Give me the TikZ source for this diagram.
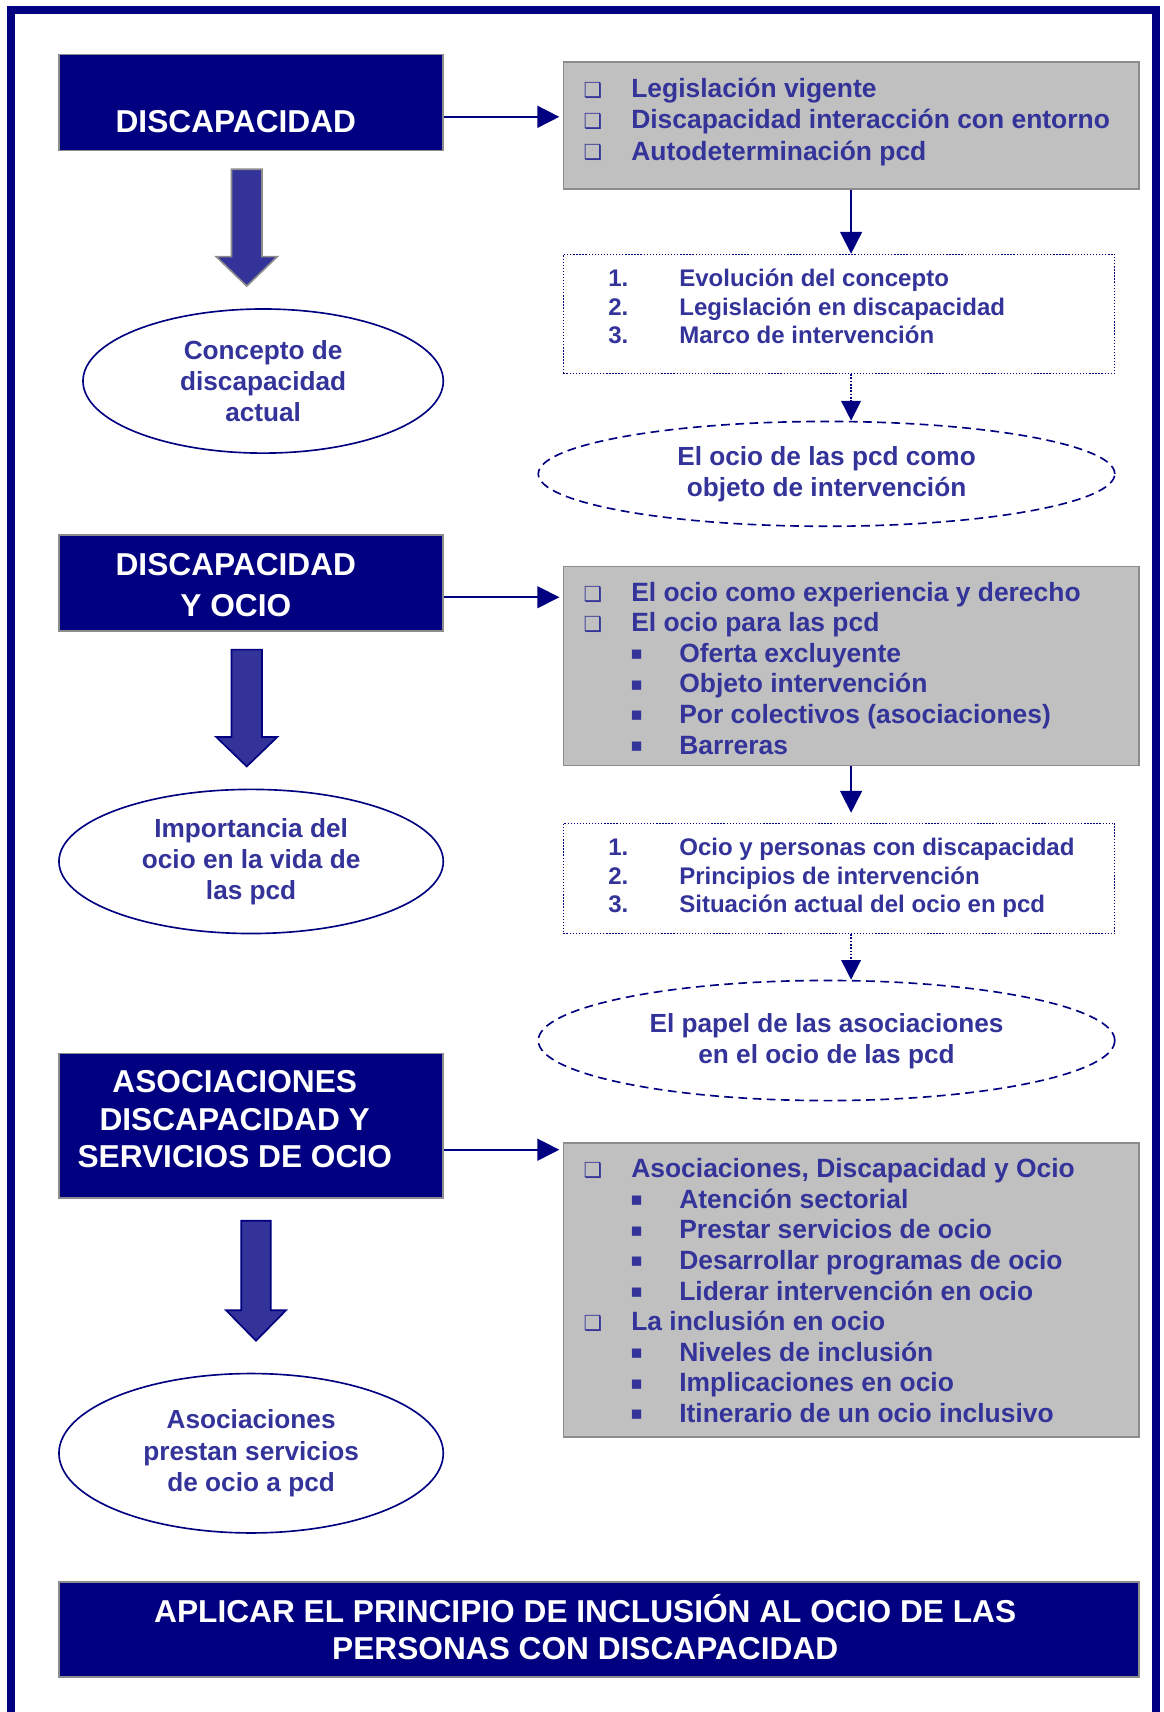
\documentclass[tikz,border=0pt]{standalone}
\usepackage{fontspec}
\setmainfont{Liberation Sans}
\newfontfamily\symfont{DejaVu Sans}
\usetikzlibrary{arrows.meta,shapes.geometric,positioning}
\definecolor{navyblue}{RGB}{0,0,128}
\definecolor{textblue}{RGB}{51,51,153}
\definecolor{boxgray}{RGB}{192,192,192}
\definecolor{edgegray}{RGB}{140,140,140}
\newcommand{\boxbul}{{\symfont\fontsize{19}{19}\selectfont ❑}}
\newcommand{\sqbul}{{\symfont\fontsize{17}{17}\selectfont ▪}}

\begin{document}
\begin{tikzpicture}[x=1pt,y=-1pt,
  header/.style={draw=edgegray, line width=1.5pt, fill=navyblue, minimum width=352pt, inner sep=0pt},
  headtext/.style={text=white, font=\fontsize{29}{34}\selectfont\bfseries, align=center, inner sep=0pt},
  graybox/.style={draw=edgegray, line width=1.5pt, fill=boxgray, minimum width=527pt, inner sep=0pt},
  dotbox/.style={draw=navyblue, line width=1.2pt, dash pattern=on 1.2pt off 1.6pt, minimum width=505pt, inner sep=0pt},
  oval/.style={ellipse, draw=navyblue, line width=1.5pt, fill=white, text=textblue, font=\fontsize{24}{28.5}\selectfont\bfseries, align=center, inner sep=0pt},
  dashoval/.style={oval, dash pattern=on 8pt off 5pt, minimum width=528pt},
  item/.style={anchor=mid west, text=textblue, font=\fontsize{24.2}{28}\selectfont\bfseries, inner sep=0pt},
  numitem/.style={item, font=\fontsize{22}{26}\selectfont\bfseries},
  bul/.style={text=textblue, inner sep=0pt},
  link/.style={draw=navyblue, line width=1.5pt, -{Triangle[length=20pt,width=20pt]}},
  dotlink/.style={link, dash pattern=on 1.5pt off 1.5pt, -{Triangle[length=18pt,width=18pt]}},
  bigarrow/.style={fill=textblue, draw=navyblue, line width=1.5pt, line join=miter}]
  \useasboundingbox (0,0) rectangle (1066,1568);
  % outer frame, open at the bottom
  \draw[navyblue, line width=7.3pt] (10.2,1600) -- (10.2,9.6) -- (1058.6,9.6) -- (1058.6,1600);

  % left column
  \node[header, minimum height=88pt] (hdrA) at (230,94) {};
  \node[headtext] (hdrAtxt) at ([xshift=-14pt,yshift=-17pt]hdrA.center) {DISCAPACIDAD};
  \node[header, minimum height=88pt] (hdrB) at (230,534) {};
  \node[headtext] (hdrBtxt) at ([xshift=-14pt,yshift=-2pt]hdrB.center) {DISCAPACIDAD\\[4pt]Y OCIO};
  \node[header, minimum height=132pt] (hdrC) at (230,1031) {};
  \node[headtext] (hdrCtxt) at ([xshift=-15pt,yshift=6pt]hdrC.center) {ASOCIACIONES\\DISCAPACIDAD Y\\SERVICIOS DE OCIO};

  \filldraw[bigarrow, draw=edgegray] (212,155) -- (240,155) -- (240,235) -- (254,235) -- (226,262) -- (198,235) -- (212,235) -- cycle;
  \filldraw[bigarrow] (212,595) -- (240,595) -- (240,675) -- (254,675) -- (226,702) -- (198,675) -- (212,675) -- cycle;
  \filldraw[bigarrow] (221,1118) -- (248,1118) -- (248,1200) -- (262,1200) -- (234.5,1228) -- (207,1200) -- (221,1200) -- cycle;

  \node[oval, minimum width=330pt, minimum height=132pt] (ellA) at (241,349) {Concepto de\\discapacidad\\actual};
  \node[oval, minimum width=352pt, minimum height=132pt] (ellB) at (230,789) {Importancia del\\ocio en la vida de\\las pcd};
  \node[oval, minimum width=352pt, minimum height=146pt] (ellC) at (230,1331) {Asociaciones\\prestan servicios\\de ocio a pcd};

  % right column
  \node[graybox, minimum height=116pt] (grayA) at (779.5,115) {};
  \foreach \lvl/\txt [count=\i from 0] in {1/Legislación vigente, 1/Discapacidad interacción con entorno, 1/Autodeterminación pcd}{
    \node[item] (grayA-\i) at (578,87+28.5*\i) {\txt};
    \node[bul] (grayAb-\i) at (543,83+28.5*\i) {\boxbul};
  }
  \node[dotbox, minimum height=109pt] (dotA) at (768.5,287.5) {};
  \foreach \txt [count=\i] in {Evolución del concepto, Legislación en discapacidad, Marco de intervención}{
    \node[numitem] (dotA-\i) at (622,260+26*\i-26) {\txt};
    \node[numitem] (dotAn-\i) at (557,260+26*\i-26) {\i.};
  }
  \node[dashoval, minimum height=96pt, text depth=4pt] (ovalA) at (757,434) {El ocio de las pcd como\\objeto de intervención};

  \node[graybox, minimum height=182pt] (grayB) at (779.5,610) {};
  \foreach \lvl/\txt [count=\i from 0] in {1/El ocio como experiencia y derecho, 1/El ocio para las pcd, 2/Oferta excluyente, 2/Objeto intervención, 2/Por colectivos (asociaciones), 2/Barreras}{
    \ifnum\lvl=1
      \node[item] (grayB-\i) at (578,548+28*\i) {\txt};
      \node[bul] (grayBb-\i) at (543,544+28*\i) {\boxbul};
    \else
      \node[item] (grayB-\i) at (622,548+28*\i) {\txt};
      \node[bul] (grayBb-\i) at (583,544+28*\i) {\sqbul};
    \fi
  }
  \node[dotbox, minimum height=101pt] (dotB) at (768.5,804.5) {};
  \foreach \txt [count=\i] in {Ocio y personas con discapacidad, Principios de intervención, Situación actual del ocio en pcd}{
    \node[numitem] (dotB-\i) at (622,781+26*\i-26) {\txt};
    \node[numitem] (dotBn-\i) at (557,781+26*\i-26) {\i.};
  }
  \node[dashoval, minimum height=110pt, text depth=4pt] (ovalB) at (757,953) {El papel de las asociaciones\\en el ocio de las pcd};

  \node[graybox, minimum height=269pt] (grayC) at (779.5,1181.5) {};
  \foreach \lvl/\txt [count=\i from 0] in {{1/Asociaciones, Discapacidad y Ocio}, 2/Atención sectorial, 2/Prestar servicios de ocio, 2/Desarrollar programas de ocio, 2/Liderar intervención en ocio, 1/La inclusión en ocio, 2/Niveles de inclusión, 2/Implicaciones en ocio, 2/Itinerario de un ocio inclusivo}{
    \ifnum\lvl=1
      \node[item] (grayC-\i) at (578,1076+28*\i) {\txt};
      \node[bul] (grayCb-\i) at (543,1072+28*\i) {\boxbul};
    \else
      \node[item] (grayC-\i) at (622,1076+28*\i) {\txt};
      \node[bul] (grayCb-\i) at (583,1072+28*\i) {\sqbul};
    \fi
  }

  % bottom banner
  \node[header, minimum width=989pt, minimum height=87pt] (final) at (548.5,1492.5) {};
  \node[headtext] (finaltxt) at ([xshift=-12.5pt,yshift=2pt]final.center) {APLICAR EL PRINCIPIO DE INCLUSIÓN AL OCIO DE LAS\\PERSONAS CON DISCAPACIDAD};

  % connectors
  \coordinate (outA) at ([yshift=-13pt]hdrA.east);
  \coordinate (outB) at ([yshift=-13pt]hdrB.east);
  \coordinate (outC) at ([yshift=-22pt]hdrC.east);
  \draw[link, shorten >=3pt] (outA) -- (outA -| grayA.west);
  \draw[link, shorten >=3pt] (outB) -- (outB -| grayB.west);
  \draw[link, shorten >=3pt] (outC) -- (outC -| grayC.west);
  \draw[link] (grayA.south) -- (grayA.south |- dotA.north);
  \draw[dotlink] (grayA.south |- dotA.south) -- (grayA.south |- ovalA.north);
  \draw[link, shorten >=9pt] (grayB.south) -- (grayB.south |- dotB.north);
  \draw[dotlink] (grayB.south |- dotB.south) -- (grayB.south |- ovalB.north);
\end{tikzpicture}
\end{document}
